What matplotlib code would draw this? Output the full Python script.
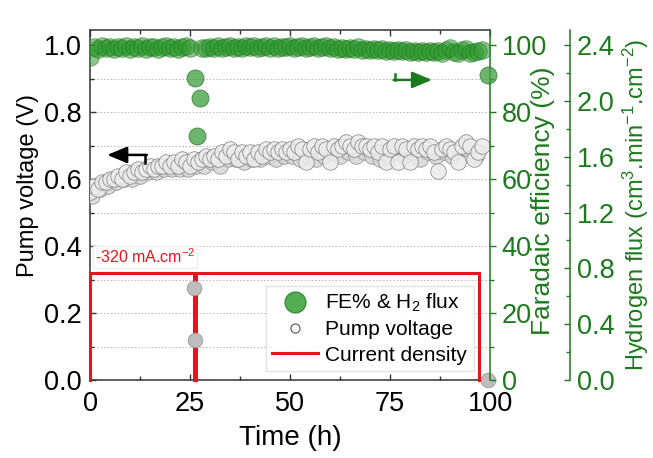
import numpy as np
import matplotlib
matplotlib.use("Agg")
import matplotlib.pyplot as plt
from matplotlib.lines import Line2D
from matplotlib.ticker import MultipleLocator, FormatStrFormatter

plt.rcParams['font.family'] = ['Liberation Sans', 'DejaVu Sans']
plt.rcParams['mathtext.fontset'] = 'custom'
plt.rcParams['mathtext.rm'] = 'Liberation Sans'
plt.rcParams['mathtext.it'] = 'Liberation Sans:italic'

# pump voltage (V), sampled every hour
hours = np.arange(0, 99)
voltage = [0.56, 0.58, 0.57, 0.59, 0.59, 0.60, 0.60, 0.61, 0.60, 0.62,
           0.61, 0.62, 0.63, 0.62, 0.63, 0.64, 0.63, 0.64, 0.64, 0.65,
           0.64, 0.65, 0.64, 0.66, 0.65, 0.64, 0.66, 0.65, 0.66, 0.67,
           0.66, 0.67, 0.66, 0.68, 0.67, 0.69, 0.68, 0.66, 0.68, 0.67,
           0.68, 0.66, 0.68, 0.67, 0.69, 0.68, 0.69, 0.68, 0.69, 0.68,
           0.69, 0.68, 0.70, 0.69, 0.65, 0.69, 0.70, 0.68, 0.70, 0.69,
           0.65, 0.70, 0.69, 0.70, 0.71, 0.70, 0.69, 0.71, 0.70, 0.70,
           0.69, 0.70, 0.68, 0.70, 0.65, 0.69, 0.70, 0.65, 0.70, 0.69,
           0.65, 0.70, 0.69, 0.70, 0.69, 0.70, 0.68, 0.625, 0.69, 0.70,
           0.69, 0.68, 0.65, 0.70, 0.71, 0.70, 0.66, 0.68, 0.70]
# second row of voltage readings (half-hour offsets)
hours_b = [0.5, 2.5, 4.5, 6.5, 8.5, 10.5, 12.5, 14.5, 16.5, 18.5, 20.5, 22.5,
           24.5, 26.5, 28.5, 30.5, 32.5, 34.5, 36.5, 38.5, 40.5, 42.5, 44.5,
           46.5, 48.5, 50.5, 52.5, 54.5, 56.5, 58.5, 60.5, 62.5, 64.5, 66.5,
           68.5, 70.5, 72.5, 74.5, 76.5, 78.5, 80.5, 82.5, 84.5, 86.5, 88.5,
           90.5, 92.5, 94.5, 96.5]
voltage_b = [0.55, 0.57, 0.58, 0.59, 0.60, 0.60, 0.61, 0.62, 0.62, 0.63,
             0.63, 0.63, 0.63, 0.64, 0.64, 0.65, 0.64, 0.66, 0.66, 0.65,
             0.66, 0.66, 0.67, 0.66, 0.67, 0.67, 0.66, 0.67, 0.66, 0.67,
             0.68, 0.67, 0.68, 0.67, 0.68, 0.67, 0.66, 0.67, 0.68, 0.67,
             0.68, 0.66, 0.68, 0.67, 0.68, 0.67, 0.69, 0.69, 0.67]
# interruptions
hours_out = [26.0, 26.3, 99.6]
voltage_out = [0.275, 0.12, 0.0]

# Faradaic efficiency (%)
fe = [96.5, 99.3, 98.8, 99.6, 99.0, 99.4, 98.7, 99.5, 99.1, 99.7,
      98.9, 99.4, 99.0, 99.6, 98.8, 99.3, 99.5, 98.9, 99.4, 99.8,
      99.1, 99.5, 98.8, 99.3, 99.6, 99.0, np.nan, np.nan, 99.2, 99.0,
      99.5, 99.1, 99.6, 99.0, 99.4, 99.8, 99.2, 99.5, 99.0, 99.6,
      99.3, 99.7, 99.1, 99.5, 99.8, 99.2, 99.6, 99.0, 99.5, 99.3,
      99.7, 99.2, 99.5, 99.8, 99.1, 99.4, 99.7, 99.0, 99.3, 99.6,
      99.1, 99.4, 98.9, 99.2, 98.7, 99.0, 98.8, 99.3, 98.6, 98.9,
      98.5, 98.8, 98.4, 98.7, 98.3, 98.6, 98.2, 98.5, 98.1, 98.4,
      98.0, 98.3, 97.9, 98.2, 97.8, 98.1, 97.9, 98.2, 97.7, 98.6,
      99.2, 98.0, 97.5, 98.4, 98.8, 97.6, 97.9, 98.3, 98.6]
fe_out_hours = [26.2, 26.7, 27.6, 99.5]
fe_out = [90.1, 72.8, 84.2, 91.0]

# applied current density, drawn on the voltage scale
current_hours = [0, 0, 25.9, 25.9, 26.4, 26.4, 97.3, 97.3]
current_level = [0, 0.318, 0.318, 0, 0, 0.318, 0.318, 0]

green = '#1c7a1c'
dark = '#333333'
red = '#e8141b'

fig = plt.figure(figsize=(6.53, 4.58), dpi=100)
ax = fig.add_axes([90/653, 1-380/458, 400/653, 350/458])

ax.plot(current_hours, current_level, color=red, lw=2.2, zorder=5,
        clip_on=False, solid_joinstyle='miter')
ax.scatter(hours_b, voltage_b, s=125, facecolor='#d6d6d6', edgecolor='#8a8a8a',
           linewidth=0.6, alpha=0.85, zorder=3)
ax.scatter(hours, voltage, s=125, facecolor='#ececec', edgecolor='#7f7f7f',
           linewidth=0.6, alpha=0.85, zorder=3)
ax.scatter(hours_out, voltage_out, s=110, facecolor='#bdbdbd', edgecolor='#999999',
           linewidth=0.6, zorder=6, clip_on=False)

ax.set_xlim(0, 100)
ax.set_ylim(0, 1.045)
ax.xaxis.set_major_locator(MultipleLocator(25))
ax.xaxis.set_minor_locator(MultipleLocator(12.5))
ax.yaxis.set_major_locator(MultipleLocator(0.2))
ax.yaxis.set_minor_locator(MultipleLocator(0.1))
ax.yaxis.set_major_formatter(FormatStrFormatter('%.1f'))
ax.grid(axis='y', which='both', color='#b5b5b5', ls=(0, (1.5, 2)), lw=0.7)
ax.tick_params(which='both', direction='in', labelsize=19.5, color=dark,
               top=True, right=False, pad=6)
ax.tick_params(axis='x', which='both', pad=8)
ax.tick_params(which='major', length=4.5, width=1.0)
ax.tick_params(which='minor', length=3, width=1.0)
for s in ['left', 'bottom', 'top']:
    ax.spines[s].set_color(dark)
    ax.spines[s].set_linewidth(1.1)
ax.spines['right'].set_visible(False)

ax.set_xlabel('Time (h)', fontsize=20)
ax.xaxis.set_label_coords(0.5, -0.165)
ax.xaxis.label.set_va('center')
ax.set_ylabel('Pump voltage (V)', fontsize=17, va='center', ha='center')
ax.yaxis.set_label_coords(-0.155, 0.557)

ax.text(1.2, 0.34, '-320 mA.cm$^{-2}$', color=red, fontsize=11.5,
        ha='left', va='bottom', zorder=5,
        bbox=dict(facecolor='white', edgecolor='#eeeeee', pad=1.0, alpha=0.9))

# direction arrows
ax.annotate('', xy=(4.3, 0.672), xytext=(14.2, 0.672),
            arrowprops=dict(arrowstyle='-|>,head_length=1.2,head_width=0.5',
                            color='black', lw=1.8, shrinkA=0, shrinkB=0), zorder=6)
ax.plot([13.75, 13.75], [0.672, 0.648], color='black', lw=1.8, zorder=6)
ax.annotate('', xy=(85.5, 0.896), xytext=(75.9, 0.896),
            arrowprops=dict(arrowstyle='-|>,head_length=1.2,head_width=0.5',
                            color=green, lw=1.8, shrinkA=0, shrinkB=0), zorder=6)
ax.plot([76.25, 76.25], [0.915, 0.896], color=green, lw=1.8, zorder=6)

# Faradaic efficiency axis
ax2 = ax.twinx()
ax2.scatter(hours, fe, s=160, facecolor='#2f9a2f', edgecolor='#1b6e1b',
            linewidth=0.6, alpha=0.55, zorder=3)
ax2.scatter(fe_out_hours, fe_out, s=150, facecolor='#3d9e3d', edgecolor='#1b6e1b',
            linewidth=0.6, alpha=0.75, zorder=3, clip_on=False)
ax2.set_ylim(0, 104.5)
ax2.yaxis.set_major_locator(MultipleLocator(20))
ax2.yaxis.set_minor_locator(MultipleLocator(10))
ax2.tick_params(which='both', direction='out', labelsize=19.5, color=green,
                labelcolor=green, pad=4)
ax2.tick_params(which='major', length=4.5, width=1.0)
ax2.tick_params(which='minor', length=3, width=1.0)
ax2.spines['right'].set_color(green)
ax2.spines['right'].set_linewidth(1.1)
for s in ['left', 'bottom', 'top']:
    ax2.spines[s].set_visible(False)
ax2.set_ylabel('Faradaic efficiency (%)', fontsize=19, color=green,
               va='center', ha='center')
ax2.yaxis.set_label_coords(1.1325, 0.511)

# hydrogen flux axis
ax3 = ax.twinx()
ax3.spines['right'].set_position(('axes', 1.2))
ax3.set_ylim(0, 2.508)
ax3.yaxis.set_major_locator(MultipleLocator(0.4))
ax3.yaxis.set_minor_locator(MultipleLocator(0.2))
ax3.yaxis.set_major_formatter(FormatStrFormatter('%.1f'))
ax3.tick_params(which='both', direction='in', labelsize=19.5, color=green,
                labelcolor=green, pad=5)
ax3.tick_params(which='major', length=4.5, width=1.0)
ax3.tick_params(which='minor', length=3, width=1.0)
ax3.spines['right'].set_color(green)
ax3.spines['right'].set_linewidth(1.1)
for s in ['left', 'bottom', 'top']:
    ax3.spines[s].set_visible(False)
ax3.set_ylabel('Hydrogen flux (cm$^{3}$.min$^{-1}$.cm$^{-2}$)', fontsize=17,
               color=green, va='center', ha='center')
ax3.yaxis.set_label_coords(1.365, 0.5)

handles = [
    Line2D([], [], ls='none', marker='o', ms=15, mfc='#3fa53f', mec='#2f8a2f', alpha=0.9),
    Line2D([], [], ls='none', marker='o', ms=6.5, mfc='white', mec='#555555', mew=0.8),
    Line2D([], [], color=red, lw=2.2),
]
labels = ['FE% & H$_2$ flux', 'Pump voltage', 'Current density']
leg = ax2.legend(handles, labels, loc='lower left', bbox_to_anchor=(0.435, 0.02),
                 fontsize=15, frameon=True, fancybox=False, edgecolor='#e2e2e2',
                 framealpha=0.9, handlelength=2.2, handletextpad=0.35,
                 labelspacing=0.3, borderpad=0.3, borderaxespad=0.1)
leg.set_zorder(10)

fig.savefig('out.png', dpi=100)
